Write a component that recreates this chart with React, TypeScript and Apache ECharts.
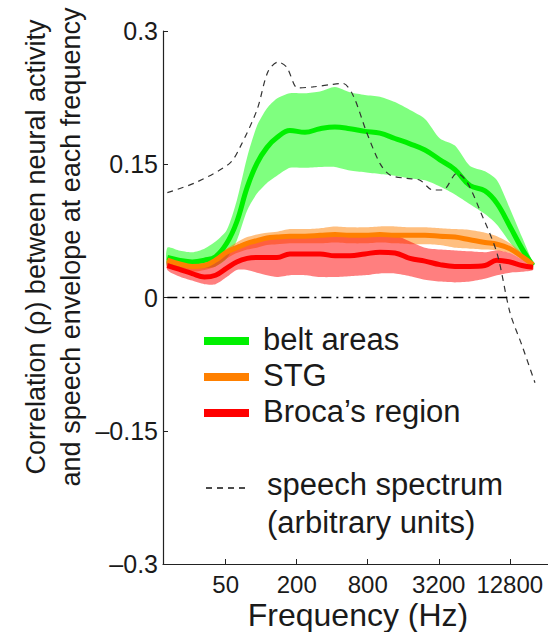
import React, { useEffect, useRef } from "react";
import * as echarts from "echarts";

// Frequencies (Hz) at which the neural correlation curves are sampled
const FREQ = [16, 20, 26, 33, 41, 51, 62, 76, 92, 112, 136, 175, 235, 315, 422, 565, 757, 1015, 1360, 1825, 2445, 3275, 4390, 5885, 7890, 9970, 12850, 16250, 20140];

// belt areas
const greenMean = [0.045, 0.042, 0.040, 0.042, 0.046, 0.061, 0.085, 0.124, 0.151, 0.169, 0.180, 0.188, 0.186, 0.190, 0.192, 0.190, 0.187, 0.185, 0.179, 0.173, 0.166, 0.155, 0.144, 0.126, 0.120, 0.106, 0.080, 0.055, 0.036];
const greenHi = [0.056, 0.053, 0.051, 0.055, 0.063, 0.076, 0.109, 0.158, 0.193, 0.213, 0.224, 0.230, 0.230, 0.232, 0.237, 0.231, 0.228, 0.226, 0.220, 0.211, 0.201, 0.179, 0.171, 0.148, 0.142, 0.132, 0.100, 0.068, 0.038];
const greenLo = [0.034, 0.033, 0.033, 0.033, 0.035, 0.044, 0.064, 0.098, 0.117, 0.129, 0.137, 0.146, 0.146, 0.147, 0.147, 0.143, 0.141, 0.139, 0.137, 0.134, 0.132, 0.125, 0.116, 0.105, 0.094, 0.082, 0.062, 0.046, 0.034];

// STG
const orangeMean = [0.042, 0.038, 0.035, 0.036, 0.042, 0.051, 0.056, 0.061, 0.064, 0.067, 0.068, 0.069, 0.069, 0.070, 0.071, 0.070, 0.070, 0.071, 0.070, 0.070, 0.070, 0.069, 0.068, 0.065, 0.062, 0.060, 0.055, 0.046, 0.037];
const orangeHi = [0.045, 0.042, 0.038, 0.041, 0.046, 0.055, 0.062, 0.068, 0.071, 0.073, 0.074, 0.077, 0.077, 0.078, 0.080, 0.079, 0.079, 0.080, 0.080, 0.079, 0.079, 0.078, 0.077, 0.076, 0.073, 0.069, 0.061, 0.050, 0.038];
const orangeLo = [0.036, 0.033, 0.029, 0.031, 0.035, 0.044, 0.050, 0.054, 0.056, 0.059, 0.060, 0.061, 0.061, 0.061, 0.062, 0.061, 0.061, 0.062, 0.061, 0.060, 0.060, 0.059, 0.056, 0.055, 0.054, 0.053, 0.050, 0.043, 0.035];

// Broca's region
const redMean = [0.036, 0.032, 0.027, 0.023, 0.025, 0.033, 0.040, 0.044, 0.045, 0.045, 0.045, 0.049, 0.049, 0.049, 0.047, 0.047, 0.049, 0.051, 0.050, 0.044, 0.041, 0.037, 0.035, 0.035, 0.036, 0.042, 0.040, 0.036, 0.034];
const redHi = [0.042, 0.038, 0.035, 0.035, 0.041, 0.053, 0.059, 0.063, 0.065, 0.068, 0.069, 0.070, 0.070, 0.070, 0.070, 0.070, 0.070, 0.071, 0.070, 0.063, 0.056, 0.054, 0.053, 0.052, 0.051, 0.053, 0.050, 0.043, 0.036];
const redLo = [0.031, 0.024, 0.019, 0.015, 0.015, 0.023, 0.031, 0.031, 0.028, 0.025, 0.023, 0.025, 0.025, 0.023, 0.023, 0.024, 0.025, 0.027, 0.027, 0.024, 0.020, 0.018, 0.017, 0.018, 0.021, 0.025, 0.028, 0.029, 0.031];

// speech spectrum (arbitrary units)
const speechFreq = [16, 28.5, 54, 66, 92, 114, 139, 165, 204, 274, 406, 493, 599, 788, 1015, 1234, 1720, 2217, 2858, 3474, 4566, 5550, 7154, 9968, 12855, 16250, 20936];
const speechVal = [0.118, 0.130, 0.151, 0.169, 0.211, 0.254, 0.265, 0.259, 0.236, 0.237, 0.240, 0.241, 0.228, 0.185, 0.151, 0.138, 0.134, 0.132, 0.121, 0.121, 0.140, 0.130, 0.098, 0.050, -0.017, -0.054, -0.096];

// zero reference line extent
const zeroFreq = [16, 19000];
const zeroVal = [0, 0];

// axis ticks
const xTickFreqs = [50, 200, 800, 3200, 12800];
const xRange = [14.7, 27000];
const yTicks = [-0.3, -0.15, 0, 0.15, 0.3];

const legendItems = [
  { name: "belt areas", color: "#00f000" },
  { name: "STG", color: "#ff8000" },
  { name: "Broca\u2019s region", color: "#ff0000" },
];

const FONT = "'Liberation Sans', Arial, Helvetica, sans-serif";
const l2 = (f: number) => Math.log2(f);

function bandSeries(name: string, lo: number[], hi: number[], color: string) {
  const rows = FREQ.map((f, i) => [l2(f), lo[i], hi[i]]);
  return {
    type: "custom",
    name,
    data: rows,
    encode: { x: 0, y: [1, 2] },
    silent: true,
    renderItem: (params: any, api: any) => {
      if (params.dataIndex !== 0) return null;
      const top = rows.map((r) => api.coord([r[0], r[2]]));
      const bot = rows.map((r) => api.coord([r[0], r[1]])).reverse();
      return {
        type: "polygon",
        shape: { points: top.concat(bot), smooth: 0.25 },
        style: { fill: color, stroke: "none" },
      };
    },
  };
}

function meanSeries(name: string, vals: number[], color: string) {
  return {
    type: "line",
    name,
    data: FREQ.map((f, i) => [l2(f), vals[i]]),
    symbol: "none",
    smooth: 0.4,
    lineStyle: { color, width: 5 },
  };
}

export default function App() {
  const ref = useRef<HTMLDivElement>(null);
  useEffect(() => {
    if (!ref.current) return;
    const chart = echarts.init(ref.current, null, { renderer: "svg" });
    const g: any[] = [];
    const rowY = [341, 377, 413];
    legendItems.forEach((it, i) => {
      g.push({
        type: "rect",
        shape: { x: 204, y: rowY[i] - 4, width: 45, height: 8 },
        style: { fill: it.color },
      });
      g.push({
        type: "text",
        x: 263,
        y: rowY[i] - 2,
        style: {
          text: it.name,
          font: `31px ${FONT}`,
          fill: "#1a1a1a",
          textAlign: "left",
          textVerticalAlign: "middle",
        },
      });
    });
    g.push({
      type: "line",
      shape: { x1: 206, y1: 488, x2: 250, y2: 488 },
      style: { stroke: "#111", lineWidth: 1.5, lineDash: [6, 5] },
    });
    g.push({
      type: "text",
      x: 267,
      y: 484,
      style: { text: "speech spectrum", font: `31px ${FONT}`, fill: "#1a1a1a", textAlign: "left", textVerticalAlign: "middle" },
    });
    g.push({
      type: "text",
      x: 267,
      y: 522,
      style: { text: "(arbitrary units)", font: `31px ${FONT}`, fill: "#1a1a1a", textAlign: "left", textVerticalAlign: "middle" },
    });
    g.push({
      type: "text",
      x: 53,
      y: 247,
      rotation: Math.PI / 2,
      style: {
        text: "Correlation (\u03c1) between neural activity\nand speech envelope at each frequency",
        font: `27px ${FONT}`,
        lineHeight: 35,
        fill: "#1a1a1a",
        textAlign: "center",
        textVerticalAlign: "middle",
      },
    });
    g.push({
      type: "text",
      x: 358,
      y: 615,
      style: { text: "Frequency (Hz)", font: `32px ${FONT}`, fill: "#1a1a1a", textAlign: "center", textVerticalAlign: "middle" },
    });

    const option: any = {
      animation: false,
      backgroundColor: "#ffffff",
      grid: { left: 163, right: 0, top: 31, bottom: 68, containLabel: false },
      xAxis: {
        type: "value",
        min: l2(xRange[0]),
        max: l2(xRange[1]),
        splitLine: { show: false },
        axisLine: { show: true, onZero: false, lineStyle: { color: "#222", width: 1.2 } },
        axisTick: {
          show: true,
          inside: true,
          length: 5,
          customValues: xTickFreqs.map(l2),
          lineStyle: { color: "#222" },
        },
        axisLabel: {
          customValues: xTickFreqs.map(l2),
          formatter: (v: number) => String(Math.round(Math.pow(2, v))),
          fontSize: 24,
          fontFamily: FONT,
          color: "#1a1a1a",
          margin: 8,
          hideOverlap: false,
        },
      },
      yAxis: {
        type: "value",
        min: yTicks[0],
        max: yTicks[yTicks.length - 1],
        interval: 0.15,
        splitLine: { show: false },
        axisLine: { show: true, onZero: false, lineStyle: { color: "#222", width: 1.2 } },
        axisTick: { show: true, inside: true, length: 5, lineStyle: { color: "#222" } },
        axisLabel: {
          fontSize: 25,
          fontFamily: FONT,
          color: "#1a1a1a",
          margin: 5,
          formatter: (v: number) => {
            const r = Math.round(v * 100) / 100;
            if (r === 0) return "0";
            return r < 0 ? "\u2013" + String(Math.abs(r)) : String(r);
          },
        },
      },
      graphic: g,
      series: [
        bandSeries("belt areas band", greenLo, greenHi, "rgba(0,255,0,0.5)"),
        meanSeries("belt areas", greenMean, "#00f000"),
        bandSeries("STG band", orangeLo, orangeHi, "rgba(255,128,0,0.5)"),
        meanSeries("STG", orangeMean, "#ff8000"),
        bandSeries("Broca\u2019s region band", redLo, redHi, "rgba(255,0,0,0.5)"),
        meanSeries("Broca\u2019s region", redMean, "#ff0000"),
        {
          type: "line",
          name: "speech spectrum",
          data: speechFreq.map((f, i) => [l2(f), speechVal[i]]),
          symbol: "none",
          smooth: 0.3,
          lineStyle: { color: "#333", width: 1.2, type: [6, 5] },
        },
        {
          type: "line",
          name: "zero",
          data: zeroFreq.map((f, i) => [l2(f), zeroVal[i]]),
          symbol: "none",
          lineStyle: { color: "#000", width: 1.5, type: [10, 5, 2, 5] },
        },
      ],
    };
    chart.setOption(option);
    return () => chart.dispose();
  }, []);
  return (
    <div
      ref={ref}
      style={{ position: "absolute", left: 0, top: 0, width: 548, height: 632 }}
    />
  );
}
